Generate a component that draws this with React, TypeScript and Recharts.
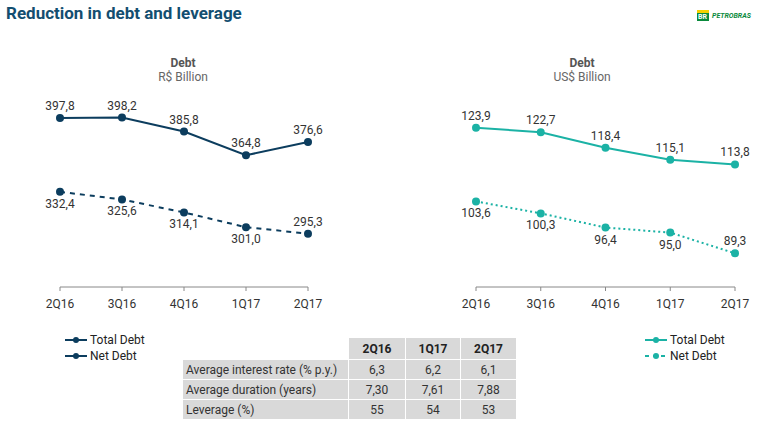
import React from 'react';
import { LineChart, Line, XAxis, YAxis, LabelList } from 'recharts';

const categories = ['2Q16', '3Q16', '4Q16', '1Q17', '2Q17'];
const brlTotalDebt = [397.8, 398.2, 385.8, 364.8, 376.6];
const brlNetDebt = [332.4, 325.6, 314.1, 301.0, 295.3];
const usdTotalDebt = [123.9, 122.7, 118.4, 115.1, 113.8];
const usdNetDebt = [103.6, 100.3, 96.4, 95.0, 89.3];

const tableColumns = ['2Q16', '1Q17', '2Q17'];
const tableRowLabels = ['Average interest rate (% p.y.)', 'Average duration (years)', 'Leverage (%)'];
const interestRate = [6.3, 6.2, 6.1];
const averageDuration = [7.3, 7.61, 7.88];
const leverage = [55, 54, 53];

const NAVY = '#0c3d5e';
const TEAL = '#1bb2a5';
const FONT = "'Roboto', sans-serif";

const fmt = (v: number, d = 1) => v.toFixed(d).replace('.', ',');

const brlData = categories.map((c, i) => ({ cat: c, total: brlTotalDebt[i], net: brlNetDebt[i] }));
const usdData = categories.map((c, i) => ({ cat: c, total: usdTotalDebt[i], net: usdNetDebt[i] }));

const makeLabel = (kind: 'total' | 'net', n: number) => (props: any) => {
  const { x, y, value, index } = props;
  const above = kind === 'total' || index === n - 1;
  const ty = above ? y - 8 : y + 16;
  return (
    <text x={x} y={ty} textAnchor="middle" fontSize={12} fill="#333" fontFamily={FONT}>
      {fmt(value)}
    </text>
  );
};

interface ChartProps {
  data: any[];
  color: string;
  dash: string;
  domain: [number, number];
  mLeft: number;
  mRight: number;
}

const DebtChart = ({ data, color, dash, domain, mLeft, mRight }: ChartProps) => (
  <LineChart
    width={384}
    height={320}
    data={data}
    margin={{ top: 93, left: mLeft, right: mRight, bottom: 3 }}
  >
    <XAxis
      dataKey="cat"
      height={30}
      stroke="#888"
      tickSize={4}
      tickMargin={8}
      tick={{ fontSize: 12, fill: '#333', fontFamily: FONT }}
      interval={0}
    />
    <YAxis hide domain={domain} />
    <Line
      dataKey="total"
      stroke={color}
      strokeWidth={2}
      dot={{ r: 4, fill: color, stroke: 'none' }}
      isAnimationActive={false}
    >
      <LabelList dataKey="total" content={makeLabel('total', data.length)} />
    </Line>
    <Line
      dataKey="net"
      stroke={color}
      strokeWidth={2}
      strokeDasharray={dash}
      dot={{ r: 4, fill: color, stroke: 'none', strokeDasharray: '' }}
      isAnimationActive={false}
    >
      <LabelList dataKey="net" content={makeLabel('net', data.length)} />
    </Line>
  </LineChart>
);

const LegendBlock = ({ left, color, netDashed }: { left: number; color: string; netDashed: boolean }) => {
  const items = [
    { name: 'Total Debt', dashed: false },
    { name: 'Net Debt', dashed: netDashed },
  ];
  return (
    <div style={{ position: 'absolute', left, top: 332 }}>
      {items.map((it, i) => (
        <div key={i} style={{ display: 'flex', alignItems: 'center', height: 16 }}>
          <svg width={24} height={10}>
            <line x1={1} y1={5} x2={23} y2={5} stroke={color} strokeWidth={2} strokeDasharray={it.dashed ? '4 4' : undefined} />
            <circle cx={12} cy={5} r={3} fill={color} />
          </svg>
          <span style={{ fontSize: 12, color: '#222', marginLeft: 2 }}>{it.name}</span>
        </div>
      ))}
    </div>
  );
};

const tableValues = [
  interestRate.map((v) => fmt(v, 1)),
  averageDuration.map((v) => fmt(v, 2)),
  leverage.map((v) => String(v)),
];

const colWidths = [56, 54, 55];

const cellBase: React.CSSProperties = {
  background: '#d9d9d9',
  height: 19,
  padding: 0,
  fontSize: 12,
  color: '#333',
};

export default function App() {
  return (
    <div style={{ position: 'fixed', left: 0, top: 0, width: 768, height: 429, background: '#fff', fontFamily: FONT, overflow: 'hidden' }}>
      <div style={{ position: 'absolute', left: 6, top: 3, fontSize: 17, fontWeight: 'bold', color: '#134e70' }}>
        Reduction in debt and leverage
      </div>
      <div style={{ position: 'absolute', left: 697, top: 10, display: 'flex', alignItems: 'center' }}>
        <div style={{ width: 12, height: 11, background: '#0a8a3c', position: 'relative' }}>
          <div style={{ position: 'absolute', left: 0, top: 0, width: 12, height: 3, background: '#f5d000' }} />
          <div style={{ position: 'absolute', left: 1, top: 3, fontSize: 7, color: '#fff', fontWeight: 'bold', lineHeight: '8px' }}>BR</div>
        </div>
        <span style={{ marginLeft: 3, fontSize: 7, fontWeight: 'bold', fontStyle: 'italic', color: '#0a8a3c' }}>PETROBRAS</span>
      </div>

      <div style={{ position: 'absolute', left: 133, width: 100, top: 56, textAlign: 'center', fontSize: 12, color: '#555', fontWeight: 'bold' }}>Debt</div>
      <div style={{ position: 'absolute', left: 133, width: 100, top: 70, textAlign: 'center', fontSize: 12, color: '#666' }}>R$ Billion</div>
      <div style={{ position: 'absolute', left: 532, width: 100, top: 56, textAlign: 'center', fontSize: 12, color: '#555', fontWeight: 'bold' }}>Debt</div>
      <div style={{ position: 'absolute', left: 532, width: 100, top: 70, textAlign: 'center', fontSize: 12, color: '#666' }}>US$ Billion</div>

      <div style={{ position: 'absolute', left: 0, top: 0 }}>
        <DebtChart data={brlData} color={NAVY} dash="5 5" domain={[248, 420]} mLeft={60} mRight={76} />
      </div>
      <div style={{ position: 'absolute', left: 384, top: 0 }}>
        <DebtChart data={usdData} color={TEAL} dash="2 3" domain={[80, 133.5]} mLeft={92} mRight={33} />
      </div>

      <LegendBlock left={64} color={NAVY} netDashed={false} />
      <LegendBlock left={644} color={TEAL} netDashed={true} />

      <table style={{ position: 'absolute', left: 182, top: 337, borderCollapse: 'separate', borderSpacing: 1 }}>
        <tbody>
          <tr>
            <td style={{ width: 162, height: 19 }} />
            {tableColumns.map((c, i) => (
              <td key={c} style={{ ...cellBase, width: colWidths[i], textAlign: 'center', fontWeight: 'bold', color: '#222' }}>{c}</td>
            ))}
          </tr>
          {tableRowLabels.map((label, r) => (
            <tr key={label}>
              <td style={{ ...cellBase, width: 162, paddingLeft: 3 }}>{label}</td>
              {tableValues[r].map((v, c) => (
                <td key={c} style={{ ...cellBase, textAlign: 'center' }}>{v}</td>
              ))}
            </tr>
          ))}
        </tbody>
      </table>
    </div>
  );
}
